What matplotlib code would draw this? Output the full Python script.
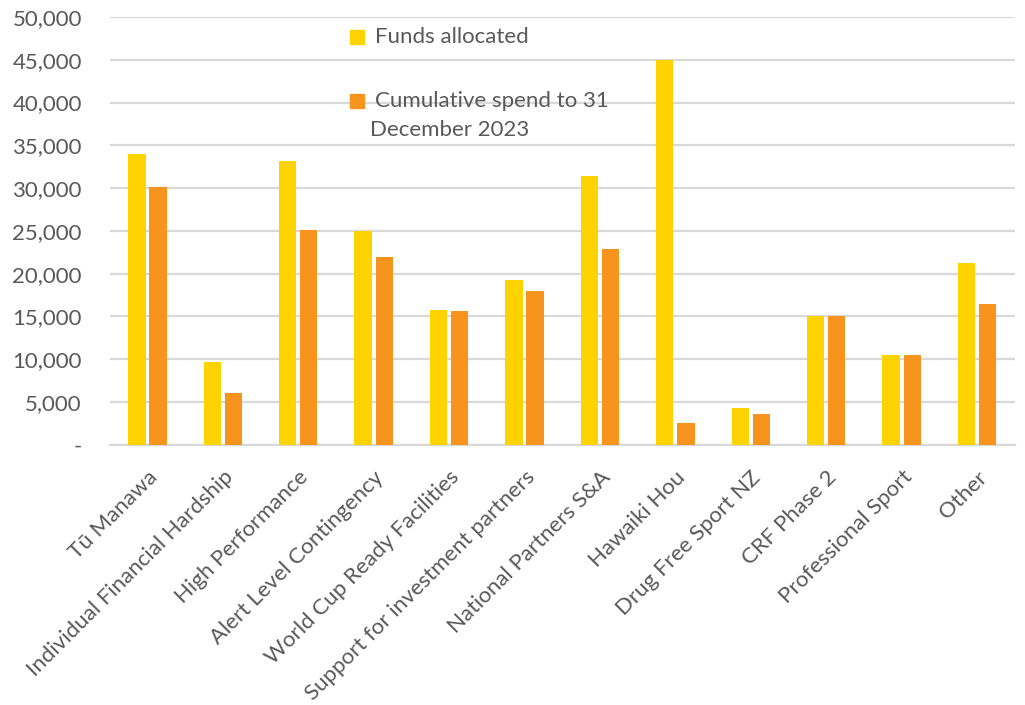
import numpy as np
import matplotlib.pyplot as plt
from matplotlib.patches import Rectangle
from matplotlib.ticker import FuncFormatter

plt.rcParams['font.family'] = ['Lato', 'DejaVu Sans']

categories = ['Tū Manawa', 'Individual Financial Hardship', 'High Performance',
              'Alert Level Contingency', 'World Cup Ready Facilities',
              'Support for investment partners', 'National Partners S&A',
              'Hawaiki Hou', 'Drug Free Sport NZ', 'CRF Phase 2',
              'Professional Sport', 'Other']
funds_allocated = [34000, 9700, 33150, 25000, 15750, 19250, 31450, 45000, 4300, 15000, 10500, 21250]
cumulative_spend = [30150, 6050, 25100, 21900, 15650, 17950, 22850, 2550, 3600, 15000, 10500, 16500]

yellow = '#FFD300'
orange = '#F7941D'
grey_text = '#595959'
grid_col = '#D9D9D9'

W, H = 1025, 705
fig = plt.figure(figsize=(W / 100, H / 100), dpi=100)
ax = fig.add_axes([0.107, 0.369, 0.883, 0.607])

x = np.arange(len(categories))
w = 0.23
gap = 0.025
ax.bar(x - w/2 - gap, funds_allocated, width=w, color=yellow, zorder=3)
ax.bar(x + w/2 + gap, cumulative_spend, width=w, color=orange, zorder=3)

ax.set_xlim(-0.5, len(categories) - 0.5)
ax.set_ylim(0, 50000)
ax.set_yticks(np.arange(0, 50001, 5000))
ax.yaxis.set_major_formatter(FuncFormatter(lambda v, p: '-' if v == 0 else f'{int(v):,}'))
ax.grid(axis='y', color=grid_col, linewidth=1.6, zorder=0)
for s in ['top', 'right', 'left']:
    ax.spines[s].set_visible(False)
ax.spines['bottom'].set_color(grid_col)
ax.spines['bottom'].set_linewidth(1.6)
ax.tick_params(axis='both', length=0, labelsize=16, labelcolor=grey_text)
ax.tick_params(axis='y', pad=20)

ax.set_xticks(x)
ax.set_xticklabels(categories, rotation=45, ha='right', va='top', rotation_mode='anchor')
ax.tick_params(axis='x', pad=16)

# legend drawn by hand (pixel positions from the top-left)
def legend_entry(px, py, color, label):
    fig.patches.append(Rectangle((px / W, 1 - (py + 7) / H), 14 / W, 14 / H,
                                 transform=fig.transFigure, color=color))
    fig.text((px + 25) / W, 1 - py / H, label, fontsize=16, color=grey_text, va='center')

legend_entry(350, 37, yellow, 'Funds allocated')
legend_entry(350, 101, orange, 'Cumulative spend to 31')
fig.text(370 / W, 1 - 130 / H, 'December 2023', fontsize=16, color=grey_text, va='center')

fig.savefig('out.png', dpi=100)
